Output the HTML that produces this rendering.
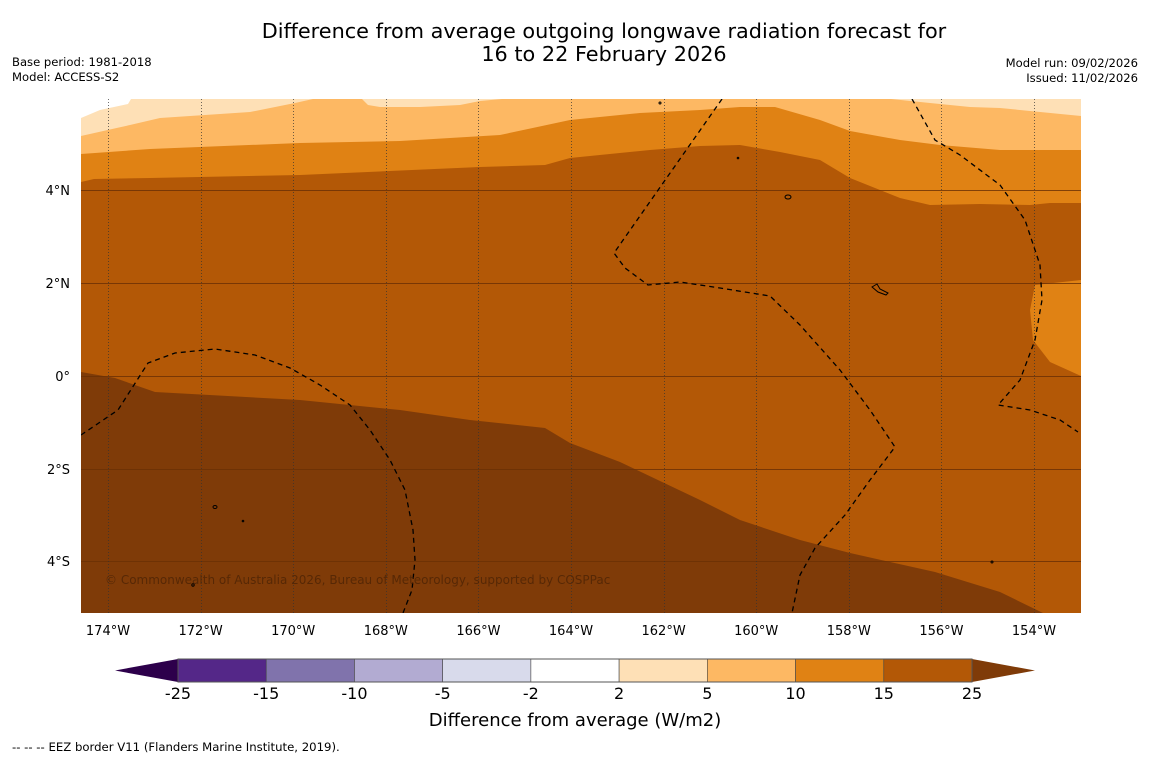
<!DOCTYPE html>
<html><head><meta charset="utf-8"><style>
body{margin:0;background:#fff;width:1150px;height:758px;overflow:hidden;font-family:"Liberation Sans","DejaVu Sans",sans-serif}
svg text{font-family:"DejaVu Sans","Liberation Sans",sans-serif}
</style></head><body>
<svg width="1150" height="758" viewBox="0 0 1150 758">
<text x="604" y="38" font-size="20.8" text-anchor="middle">Difference from average outgoing longwave radiation forecast for</text>
<text x="604" y="61" font-size="20.8" text-anchor="middle">16 to 22 February 2026</text>
<text x="12" y="66" font-size="11.6">Base period: 1981-2018</text>
<text x="12" y="81" font-size="11.6">Model: ACCESS-S2</text>
<text x="1138" y="67" font-size="11.6" text-anchor="end">Model run: 09/02/2026</text>
<text x="1138" y="82" font-size="11.6" text-anchor="end">Issued: 11/02/2026</text>
<defs><clipPath id="mc"><rect x="81" y="99" width="1000" height="514"/></clipPath></defs>
<g clip-path="url(#mc)">
<rect x="81" y="99" width="1000" height="514" fill="#b35806"/>
<polygon fill="#e08214" points="81,99 1081,99 1081,203 1050,203 1030,205 980,204 930,205 900,198 850,178 820,160 780,152 740,145 700,146 650,150 570,158 545,165 480,167 300,175 150,178 94,179 81,182"/>
<polygon fill="#e08214" points="1081,280 1035,285 1030,310 1033,340 1050,362 1081,376"/>
<polygon fill="#fdb863" points="81,99 1081,99 1081,150 1000,150 940,145 900,140 850,131 820,120 775,107 740,107 700,110 640,113 570,120 500,135 400,141 300,143 150,149 81,154"/>
<polygon fill="#fee0b6" points="81,99 313,99 295,103 250,112 160,118 130,125 81,136"/>
<polygon fill="#fee0b6" points="362,99 368,105 380,107 420,107 460,105 480,101 502,99"/>
<polygon fill="#fee0b6" points="891,99 930,103 970,107 1000,108 1081,116 1081,99"/>
<polygon fill="#ffffff" points="81,99 131,99 128,104 100,110 81,118"/>
<polygon fill="#7f3b08" points="81,372 115,378 155,392 300,400 400,410 470,420 545,428 570,443 620,462 700,500 740,520 800,540 850,553 935,572 1000,592 1043,613 81,613"/>
<g stroke="#6a3005" stroke-width="1" opacity="0.8">
<line x1="81" x2="1081" y1="190.5" y2="190.5"/><line x1="81" x2="1081" y1="283.5" y2="283.5"/><line x1="81" x2="1081" y1="376.5" y2="376.5"/><line x1="81" x2="1081" y1="469.5" y2="469.5"/><line x1="81" x2="1081" y1="561.5" y2="561.5"/>
</g>
<g id="lonlines" stroke="#333" stroke-width="0.7" stroke-dasharray="1,2"></g>
<g fill="none" stroke="#000" stroke-width="1.3" stroke-dasharray="5,4">
<polyline points="722,99 614,253 625,268 648,285 680,282 720,288 770,296 800,325 840,370 870,410 895,447 870,480 845,515 815,548 800,575 792,613"/>
<polyline points="912,99 935,140 960,155 1000,185 1025,220 1040,265 1042,300 1035,340 1020,380 998,405 1030,410 1060,420 1078,432"/>
<polyline points="81,435 118,410 148,363 175,353 215,349 255,355 290,368 320,385 350,405 370,430 390,460 405,490 413,530 415,560 412,590 403,613"/>
</g>
<g fill="none" stroke="#000" stroke-width="1">
<ellipse cx="788" cy="197" rx="3" ry="2"/><path d="M872,287 l5,-3 l3,5 l8,4 l-2,2 l-8,-3z"/><ellipse cx="215" cy="507" rx="2" ry="1.5"/><circle cx="660" cy="103" r="1"/><circle cx="738" cy="158" r="0.8"/><circle cx="992" cy="562" r="1"/><circle cx="243" cy="521" r="0.8"/><circle cx="193" cy="585" r="1.2"/>
</g>
<text x="105" y="584" font-size="12" fill="#4a2205" opacity="0.75">© Commonwealth of Australia 2026, Bureau of Meteorology, supported by COSPPac</text>
</g>
<g font-size="13" text-anchor="end">
<text x="70" y="195">4°N</text><text x="70" y="288">2°N</text><text x="70" y="381">0°</text><text x="70" y="474">2°S</text><text x="70" y="566">4°S</text>
</g>
<g id="lonlabels" font-size="13" text-anchor="middle"></g>
<g>
<polygon points="178,659 115,670.5 178,682" fill="#2d004b"/>
<polygon points="972,659 1035,670.5 972,682" fill="#7f3b08"/>
<g id="cbsegs"></g>
<rect x="178" y="659" width="794" height="23" fill="none" stroke="#555" stroke-width="1"/>
<g id="cblabels" font-size="16" text-anchor="middle"></g>
<text x="575" y="726" font-size="18" text-anchor="middle">Difference from average (W/m2)</text>
</g>
<text x="12" y="751" font-size="11.7">--  --  -- EEZ border V11 (Flanders Marine Institute, 2019).</text>
</svg>
<script>
const lonTicks=[-174,-172,-170,-168,-166,-164,-162,-160,-158,-156,-154];
const cbLevels=[-25,-15,-10,-5,-2,2,5,10,15,25];
const cbColors=["#542788","#8073ac","#b2abd2","#d8daeb","#ffffff","#fee0b6","#fdb863","#e08214","#b35806"];
const NS="http://www.w3.org/2000/svg";
function xLon(l){return 108+(l+174)*46.3;}
const ll=document.getElementById('lonlines'),lb=document.getElementById('lonlabels');
lonTicks.forEach(l=>{
 const x=Math.round(xLon(l))+0.5;
 const ln=document.createElementNS(NS,'line');
 ln.setAttribute('x1',x);ln.setAttribute('x2',x);ln.setAttribute('y1',99);ln.setAttribute('y2',613);
 
 
 ll.appendChild(ln);
 const t=document.createElementNS(NS,'text');
 t.setAttribute('x',xLon(l));t.setAttribute('y',635);t.textContent=Math.abs(l)+'°W';
 
 
 lb.appendChild(t);
});
const cs=document.getElementById('cbsegs'),cl=document.getElementById('cblabels');
const w=794/cbColors.length;
cbColors.forEach((c,i)=>{
 const r=document.createElementNS(NS,'rect');
 r.setAttribute('x',178+i*w);r.setAttribute('y',659);r.setAttribute('width',w);r.setAttribute('height',23);
 r.setAttribute('fill',c);r.setAttribute('stroke','#444');r.setAttribute('stroke-width','0.6');
 
 
 cs.appendChild(r);
});
cbLevels.forEach((v,i)=>{
 const t=document.createElementNS(NS,'text');
 t.setAttribute('x',178+i*w);t.setAttribute('y',699);t.textContent=v;
 
 
 cl.appendChild(t);
});
</script>
</body></html>
